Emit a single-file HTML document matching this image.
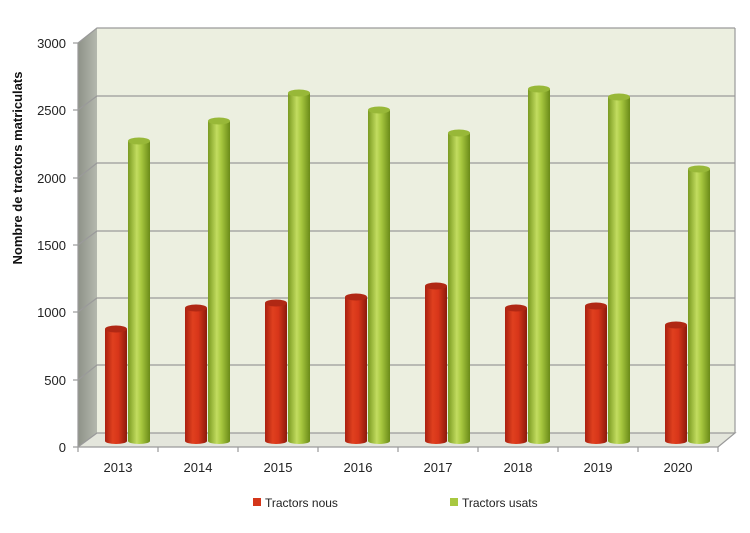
<!DOCTYPE html>
<html><head><meta charset="utf-8"><style>body{margin:0;background:#fff}svg{display:block}text{font-family:"Liberation Sans",sans-serif}</style></head><body>
<svg width="750" height="533" viewBox="0 0 750 533">
<defs>
<linearGradient id="r" x1="0" x2="1"><stop offset="0" stop-color="#a82010"/><stop offset=".35" stop-color="#e0401e"/><stop offset=".6" stop-color="#d8361a"/><stop offset="1" stop-color="#8c1a0c"/></linearGradient>
<linearGradient id="g" x1="0" x2="1"><stop offset="0" stop-color="#7a9a20"/><stop offset=".4" stop-color="#c2dc60"/><stop offset=".6" stop-color="#a8c840"/><stop offset="1" stop-color="#6a8a18"/></linearGradient>
<linearGradient id="side" x1="0" x2="1"><stop offset="0" stop-color="#8e9288"/><stop offset="1" stop-color="#b4b8ae"/></linearGradient>
<path id="cr" d="M0,0 L0,0"/>
</defs>
<polygon points="97,28 735,28 735,433 97,433" fill="#ecefe0"/>
<polygon points="78,43 97,28 97,433 78,447" fill="url(#side)"/>
<polygon points="78,447 97,433 735,433 718,447" fill="#e4e6dc"/>
<g stroke="#9a9a9a" stroke-width="1.2" fill="none">
<polyline points="78,43 97,28 735,28"/>
<polyline points="78,110 97,96 735,96"/>
<polyline points="78,178 97,163 735,163"/>
<polyline points="78,245 97,231 735,231"/>
<polyline points="78,312 97,298 735,298"/>
<polyline points="78,380 97,365 735,365"/>
<polyline points="78,447 97,433 735,433 718,447"/>
<line x1="735" y1="28" x2="735" y2="433"/>
<line x1="78" y1="43" x2="78" y2="447"/>
<line x1="78" y1="447" x2="718" y2="447"/>
<line x1="73" y1="43" x2="78" y2="43"/><line x1="73" y1="110" x2="78" y2="110"/><line x1="73" y1="178" x2="78" y2="178"/><line x1="73" y1="245" x2="78" y2="245"/><line x1="73" y1="312" x2="78" y2="312"/><line x1="73" y1="380" x2="78" y2="380"/><line x1="73" y1="447" x2="78" y2="447"/>
<line x1="78" y1="447" x2="78" y2="452"/><line x1="158" y1="447" x2="158" y2="452"/><line x1="238" y1="447" x2="238" y2="452"/><line x1="318" y1="447" x2="318" y2="452"/><line x1="398" y1="447" x2="398" y2="452"/><line x1="478" y1="447" x2="478" y2="452"/><line x1="558" y1="447" x2="558" y2="452"/><line x1="638" y1="447" x2="638" y2="452"/><line x1="718" y1="447" x2="718" y2="452"/>
</g>
<g font-size="13" fill="#222" text-anchor="end">
<text x="66" y="48">3000</text><text x="66" y="115">2500</text><text x="66" y="183">2000</text><text x="66" y="250">1500</text><text x="66" y="317">1000</text><text x="66" y="385">500</text><text x="66" y="452">0</text>
</g>
<g font-size="13" fill="#222" text-anchor="middle">
<text x="118" y="472">2013</text><text x="198" y="472">2014</text><text x="278" y="472">2015</text><text x="358" y="472">2016</text><text x="438" y="472">2017</text><text x="518" y="472">2018</text><text x="598" y="472">2019</text><text x="678" y="472">2020</text>
</g>
<text transform="translate(22,168) rotate(-90)" font-size="13" font-weight="bold" text-anchor="middle" fill="#111">Nombre de tractors matriculats</text>
<g fill="url(#r)">
<path d="M105,329 L105,441 A11,3 0 0,0 127,441 L127,329 Z"/>
<path d="M185,308 L185,441 A11,3 0 0,0 207,441 L207,308 Z"/>
<path d="M265,303 L265,441 A11,3 0 0,0 287,441 L287,303 Z"/>
<path d="M345,297 L345,441 A11,3 0 0,0 367,441 L367,297 Z"/>
<path d="M425,286 L425,441 A11,3 0 0,0 447,441 L447,286 Z"/>
<path d="M505,308 L505,441 A11,3 0 0,0 527,441 L527,308 Z"/>
<path d="M585,306 L585,441 A11,3 0 0,0 607,441 L607,306 Z"/>
<path d="M665,325 L665,441 A11,3 0 0,0 687,441 L687,325 Z"/>
</g>
<g fill="#b02814">
<ellipse cx="116" cy="329" rx="11" ry="3.5"/><ellipse cx="196" cy="308" rx="11" ry="3.5"/><ellipse cx="276" cy="303" rx="11" ry="3.5"/><ellipse cx="356" cy="297" rx="11" ry="3.5"/><ellipse cx="436" cy="286" rx="11" ry="3.5"/><ellipse cx="516" cy="308" rx="11" ry="3.5"/><ellipse cx="596" cy="306" rx="11" ry="3.5"/><ellipse cx="676" cy="325" rx="11" ry="3.5"/>
</g>
<g fill="url(#g)">
<path d="M128,141 L128,441 A11,3 0 0,0 150,441 L150,141 Z"/>
<path d="M208,121 L208,441 A11,3 0 0,0 230,441 L230,121 Z"/>
<path d="M288,93 L288,441 A11,3 0 0,0 310,441 L310,93 Z"/>
<path d="M368,110 L368,441 A11,3 0 0,0 390,441 L390,110 Z"/>
<path d="M448,133 L448,441 A11,3 0 0,0 470,441 L470,133 Z"/>
<path d="M528,89 L528,441 A11,3 0 0,0 550,441 L550,89 Z"/>
<path d="M608,97 L608,441 A11,3 0 0,0 630,441 L630,97 Z"/>
<path d="M688,169 L688,441 A11,3 0 0,0 710,441 L710,169 Z"/>
</g>
<g fill="#98b838">
<ellipse cx="139" cy="141" rx="11" ry="3.5"/><ellipse cx="219" cy="121" rx="11" ry="3.5"/><ellipse cx="299" cy="93" rx="11" ry="3.5"/><ellipse cx="379" cy="110" rx="11" ry="3.5"/><ellipse cx="459" cy="133" rx="11" ry="3.5"/><ellipse cx="539" cy="89" rx="11" ry="3.5"/><ellipse cx="619" cy="97" rx="11" ry="3.5"/><ellipse cx="699" cy="169" rx="11" ry="3.5"/>
</g>
<rect x="253" y="498" width="8" height="8" fill="#d4361a"/><text x="265" y="507" font-size="12" fill="#222">Tractors nous</text>
<rect x="450" y="498" width="8" height="8" fill="#a8c840"/><text x="462" y="507" font-size="12" fill="#222">Tractors usats</text>
</svg>
</body></html>
